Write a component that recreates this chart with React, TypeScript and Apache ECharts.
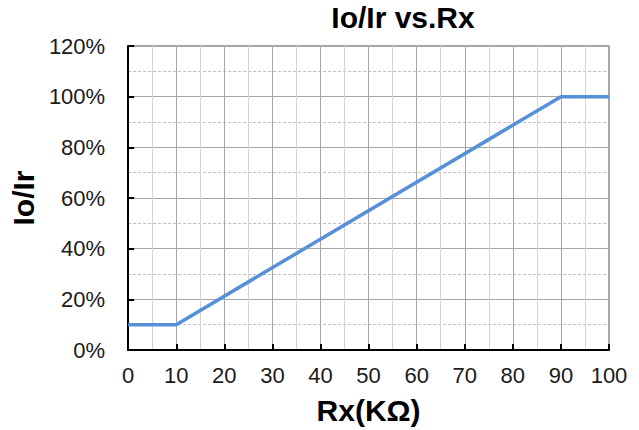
import React, { useEffect, useRef } from "react";
import * as echarts from "echarts";

const rxValues = [0, 10, 90, 100];
const ratioValues = [0.1, 0.1, 1.0, 1.0];
const titleText = "Io/Ir vs.Rx";
const xName = "Rx(KΩ)";
const yName = "Io/Ir";

export default function App() {
  const ref = useRef<HTMLDivElement>(null);
  useEffect(() => {
    if (!ref.current) return;
    const chart = echarts.init(ref.current, null, { renderer: "svg" });
    const font = "'Liberation Sans', Arial, sans-serif";
    chart.setOption({
      animation: false,
      backgroundColor: "#ffffff",
      title: {
        text: titleText,
        left: 403,
        top: 2,
        padding: 0,
        textAlign: "center",
        textStyle: { fontFamily: font, fontSize: 30, fontWeight: "bold", color: "#000" },
      },
      grid: {
        left: 126,
        right: 30,
        top: 46,
        bottom: 80,
        show: true,
        borderColor: "#8c8c8c",
        borderWidth: 1.5,
      },
      xAxis: {
        type: "value",
        min: 0,
        max: 100,
        interval: 10,
        name: xName,
        nameLocation: "middle",
        nameGap: 45,
        nameTextStyle: { fontFamily: font, fontSize: 30, fontWeight: "bold", color: "#000" },
        axisLine: { show: true, onZero: false, lineStyle: { color: "#000", width: 2 } },
        axisTick: { show: true, inside: true, length: 6, lineStyle: { color: "#000", width: 2 } },
        axisLabel: { fontFamily: font, fontSize: 22, color: "#1a1a1a", margin: 14 },
        splitLine: { show: true, lineStyle: { color: "#a6a6a6", width: 1 } },
        minorTick: { show: false, splitNumber: 2 },
        minorSplitLine: { show: true, lineStyle: { color: "#d4d4d4", width: 1 } },
      },
      yAxis: {
        type: "value",
        min: 0,
        max: 1.2,
        interval: 0.2,
        name: yName,
        nameLocation: "middle",
        nameGap: 86,
        nameTextStyle: { fontFamily: font, fontSize: 30, fontWeight: "bold", color: "#000" },
        axisLine: { show: true, onZero: false, lineStyle: { color: "#000", width: 2 } },
        axisTick: { show: true, inside: true, length: 6, lineStyle: { color: "#000", width: 2 } },
        axisLabel: {
          fontFamily: font,
          fontSize: 22,
          color: "#1a1a1a",
          margin: 23,
          formatter: (v: number) => Math.round(v * 100) + "%",
        },
        splitLine: { show: true, lineStyle: { color: "#a6a6a6", width: 1 } },
        minorTick: { show: false, splitNumber: 2 },
        minorSplitLine: { show: true, lineStyle: { color: "#bfbfbf", width: 1, type: [3, 2] } },
      },
      series: [
        {
          type: "line",
          data: rxValues.map((x, i) => [x, ratioValues[i]]),
          showSymbol: false,
          symbol: "none",
          lineStyle: { color: "#5590d9", width: 3.5 },
        },
      ],
    });
    return () => chart.dispose();
  }, []);
  return (
    <div
      ref={ref}
      style={{ position: "fixed", left: 0, top: 0, width: 639, height: 430 }}
    />
  );
}
